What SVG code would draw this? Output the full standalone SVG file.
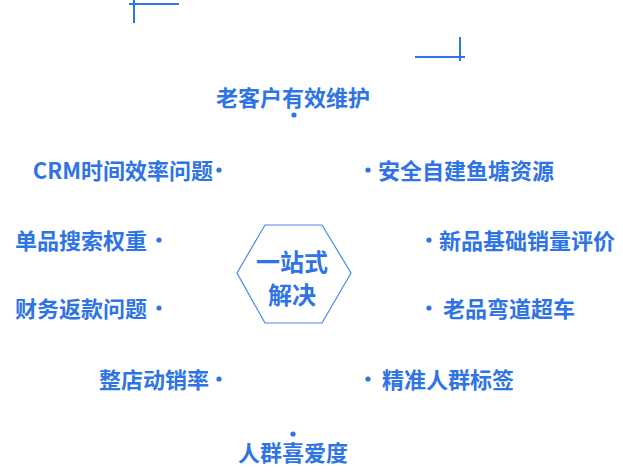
<svg xmlns="http://www.w3.org/2000/svg" width="623" height="472" viewBox="0 0 623 472">
<style>
.t{font-family:"Noto Sans CJK SC","Noto Sans",sans-serif;font-weight:bold;font-size:22px;fill:#2e74e6}
.c{font-size:24px}
.d{fill:#2e74e6}
.ln{stroke:#2e74e6;stroke-width:2;fill:none}
.hex{stroke:#4a86e8;stroke-width:1.2;fill:#fff}
</style>
<g id="deco">
<line class="ln" x1="134" y1="0" x2="134" y2="23"/>
<line class="ln" x1="129" y1="4" x2="179" y2="4"/>
<line class="ln" x1="460" y1="37" x2="460" y2="61"/>
<line class="ln" x1="415" y1="57" x2="465" y2="57"/>
</g>
<g id="center">
<polygon class="hex" points="265,225 322,225 351,273 322,323 265,323 237,273"/>
<text class="t c" x="292" y="271" text-anchor="middle">一站式</text>
<text class="t c" x="292" y="304" text-anchor="middle">解决</text>
</g>
<g id="connectors"></g>
<g id="n1"><text class="t" x="293" y="106" text-anchor="middle">老客户有效维护</text><circle class="d" cx="294" cy="115" r="2.6"/></g>
<g id="n2"><text class="t" x="213" y="179" text-anchor="end">CRM时间效率问题</text><circle class="d" cx="219" cy="170" r="2.6"/></g>
<g id="n3"><text class="t" x="378" y="179">安全自建鱼塘资源</text><circle class="d" cx="368" cy="170" r="2.6"/></g>
<g id="n4"><text class="t" x="147" y="249" text-anchor="end">单品搜索权重</text><circle class="d" cx="159" cy="240" r="2.6"/></g>
<g id="n5"><text class="t" x="439" y="249">新品基础销量评价</text><circle class="d" cx="429" cy="240" r="2.6"/></g>
<g id="n6"><text class="t" x="147" y="317" text-anchor="end">财务返款问题</text><circle class="d" cx="159" cy="308" r="2.6"/></g>
<g id="n7"><text class="t" x="443" y="317">老品弯道超车</text><circle class="d" cx="429" cy="308" r="2.6"/></g>
<g id="n8"><text class="t" x="209" y="388" text-anchor="end">整店动销率</text><circle class="d" cx="219" cy="379" r="2.6"/></g>
<g id="n9"><text class="t" x="382" y="388">精准人群标签</text><circle class="d" cx="368" cy="379" r="2.6"/></g>
<g id="n10"><text class="t" x="293" y="461" text-anchor="middle">人群喜爱度</text><circle class="d" cx="293" cy="434" r="2.6"/></g>
</svg>
